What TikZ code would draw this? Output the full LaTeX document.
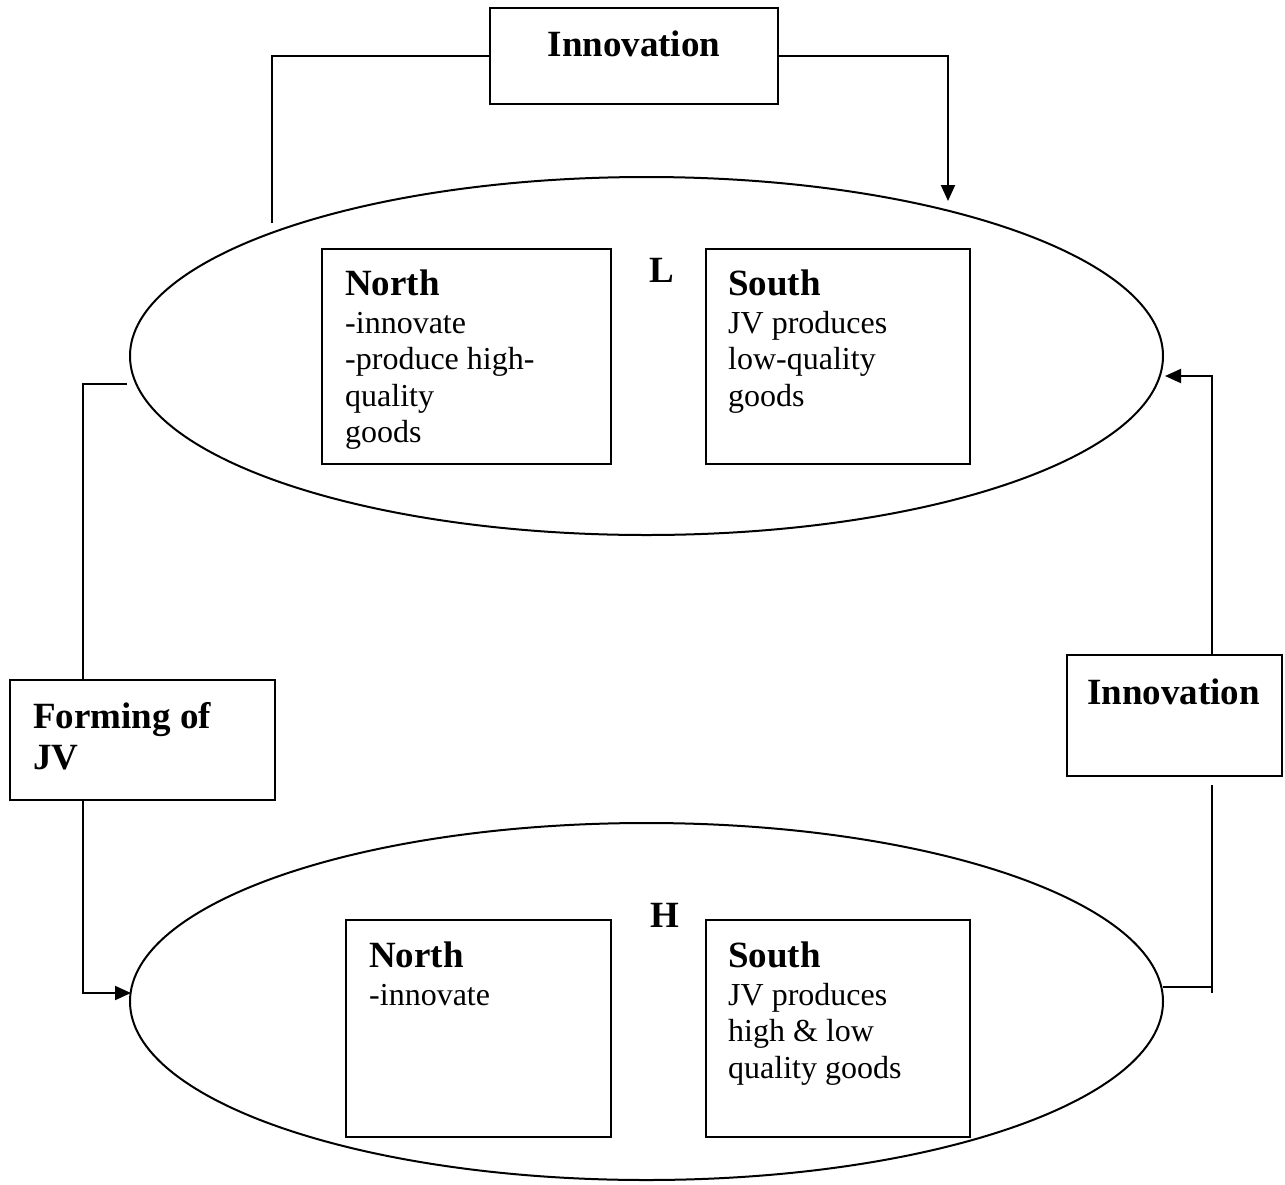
\documentclass[tikz,border=0pt]{standalone}
\usepackage{fontspec}
\setmainfont{Liberation Serif}
\usetikzlibrary{shapes.geometric,arrows.meta}
\tikzset{
  ln/.style={line width=2pt},
  box/.style={draw, line width=2pt, rectangle, inner sep=0pt},
  oval/.style={draw, line width=2pt, ellipse, inner sep=0pt},
  hd/.style={anchor=base west, inner sep=0pt, font=\fontsize{37}{42}\selectfont\bfseries},
  hdc/.style={anchor=base, inner sep=0pt, font=\fontsize{37}{42}\selectfont\bfseries},
  bd/.style={anchor=base west, inner sep=0pt, font=\fontsize{32}{37}\selectfont},
  arr/.style={ln, -{Triangle[length=16pt,width=14pt]}},
}
\begin{document}
\begin{tikzpicture}[x=1pt,y=-1pt]
\useasboundingbox (0,0) rectangle (1285,1184);
% ellipses
\node[oval, minimum width=1033pt, minimum height=358pt] (ellL) at (646.5,356) {};
\node[oval, minimum width=1033pt, minimum height=357pt] (ellH) at (646.5,1001.5) {};
% boxes
\node[box, minimum width=289pt, minimum height=215pt] (nL) at (466.5,356.5) {};
\node[box, minimum width=264pt, minimum height=215pt] (sL) at (838,356.5) {};
\node[box, minimum width=265pt, minimum height=217pt] (nH) at (478.5,1028.5) {};
\node[box, minimum width=264pt, minimum height=217pt] (sH) at (838,1028.5) {};
\node[box, minimum width=288pt, minimum height=96pt] (innT) at (634,56) {};
\node[box, minimum width=215pt, minimum height=121pt] (innR) at (1174.5,715.5) {};
\node[box, minimum width=265pt, minimum height=120pt] (jv) at (142.5,740) {};
% texts
\node[hdc] (tInnT) at (634,56) {Innovation};
\node[hd] (tInnR) at (1087,704) {Innovation};
\node[hd] (tjv1) at (33,728) {Forming of};
\node[hd] (tjv2) at (33,769) {JV};
\node[hdc] (tL) at (662,282) {L};
\node[hdc] (tH) at (665,927) {H};
% L boxes
\node[hd] (nLh) at (345,295) {North};
\node[bd] (nL1) at (345,333) {-innovate};
\node[bd] (nL2) at (345,369.5) {-produce high-};
\node[bd] (nL3) at (345,406) {quality};
\node[bd] (nL4) at (345,442.5) {goods};
\node[hd] (sLh) at (728,295) {South};
\node[bd] (sL1) at (728,333) {JV produces};
\node[bd] (sL2) at (728,369.5) {low-quality};
\node[bd] (sL3) at (728,406) {goods};
% H boxes
\node[hd] (nHh) at (369,967) {North};
\node[bd] (nH1) at (369,1005) {-innovate};
\node[hd] (sHh) at (728,967) {South};
\node[bd] (sH1) at (728,1005) {JV produces};
\node[bd] (sH2) at (728,1041.5) {high \& low};
\node[bd] (sH3) at (728,1078) {quality goods};
% coordinates for free ends
\coordinate (a1) at (272,223);
\coordinate (a2) at (948,201);
\coordinate (b1) at (127,384);
\coordinate (b2) at (131,993);
\coordinate (xl) at (83,0);
\coordinate (c0) at (1163,987);
\coordinate (c4) at (1212,987);
\coordinate (c1) at (1212,993);
\coordinate (c2) at (1212,785);
\coordinate (c3) at (1165,376);
% connectors
\draw[ln] (a1) |- (innT.west);
\draw[arr] (innT.east) -| (a2);
\draw[ln] (b1) -| (jv.north -| xl);
\draw[arr] (jv.south -| xl) |- (b2);
\draw[ln] (c0) -- (c4);
\draw[ln] (c1) -- (c2);
\draw[arr] (innR.north -| c1) |- (c3);
\end{tikzpicture}
\end{document}
